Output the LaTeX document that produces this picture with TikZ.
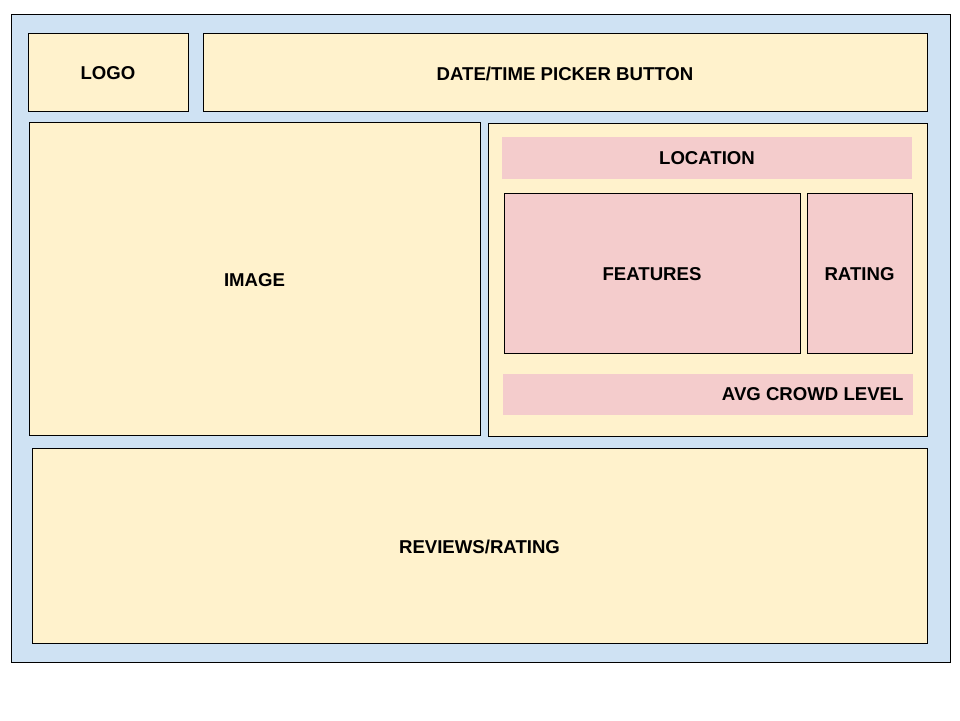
\documentclass[tikz,border=0pt]{standalone}
\usepackage{fontspec}
\setmainfont{Liberation Sans}
\definecolor{bgblue}{HTML}{CFE2F3}
\definecolor{boxyellow}{HTML}{FFF2CC}
\definecolor{boxpink}{HTML}{F4CCCC}
\tikzset{
  ybox/.style={draw=black, fill=boxyellow, line width=1pt},
  pbox/.style={draw=black, fill=boxpink, line width=1pt},
  lbl/.style={font=\fontsize{18.6}{22}\selectfont\bfseries, text=black, yshift=-1.5pt}
}
\begin{document}
\begin{tikzpicture}[x=1pt,y=-1pt]
\useasboundingbox (0,0) rectangle (960,720);
\fill[white] (0,0) rectangle (960,720);
\draw[fill=bgblue, line width=1pt] (11,14) rectangle (950,662);
% top row
\draw[ybox] (28,33) rectangle (188,111);
\node[lbl] (logo) at (108,72) {LOGO};
\draw[ybox] (203,33) rectangle (927,111);
\node[lbl] (date) at (565,72) {DATE/TIME PICKER BUTTON};
% image
\draw[ybox] (29,122) rectangle (480,435);
\node[lbl] (image) at (254.5,279) {IMAGE};
% right panel
\draw[ybox] (488,123) rectangle (927,436);
\fill[boxpink] (502,137) rectangle (912,179);
\node[lbl] (location) at (707,157) {LOCATION};
\draw[pbox] (504,193) rectangle (800,353);
\node[lbl] (features) at (652,273) {FEATURES};
\draw[pbox] (807,193) rectangle (912,353);
\node[lbl] (rating) at (859.5,273) {RATING};
\fill[boxpink] (503,374) rectangle (913,415);
\node[lbl, anchor=east] (avg) at (907,393) {AVG CROWD LEVEL};
% reviews
\draw[ybox] (32,448) rectangle (927,643);
\node[lbl] (reviews) at (479.5,545) {REVIEWS/RATING};
\end{tikzpicture}
\end{document}
